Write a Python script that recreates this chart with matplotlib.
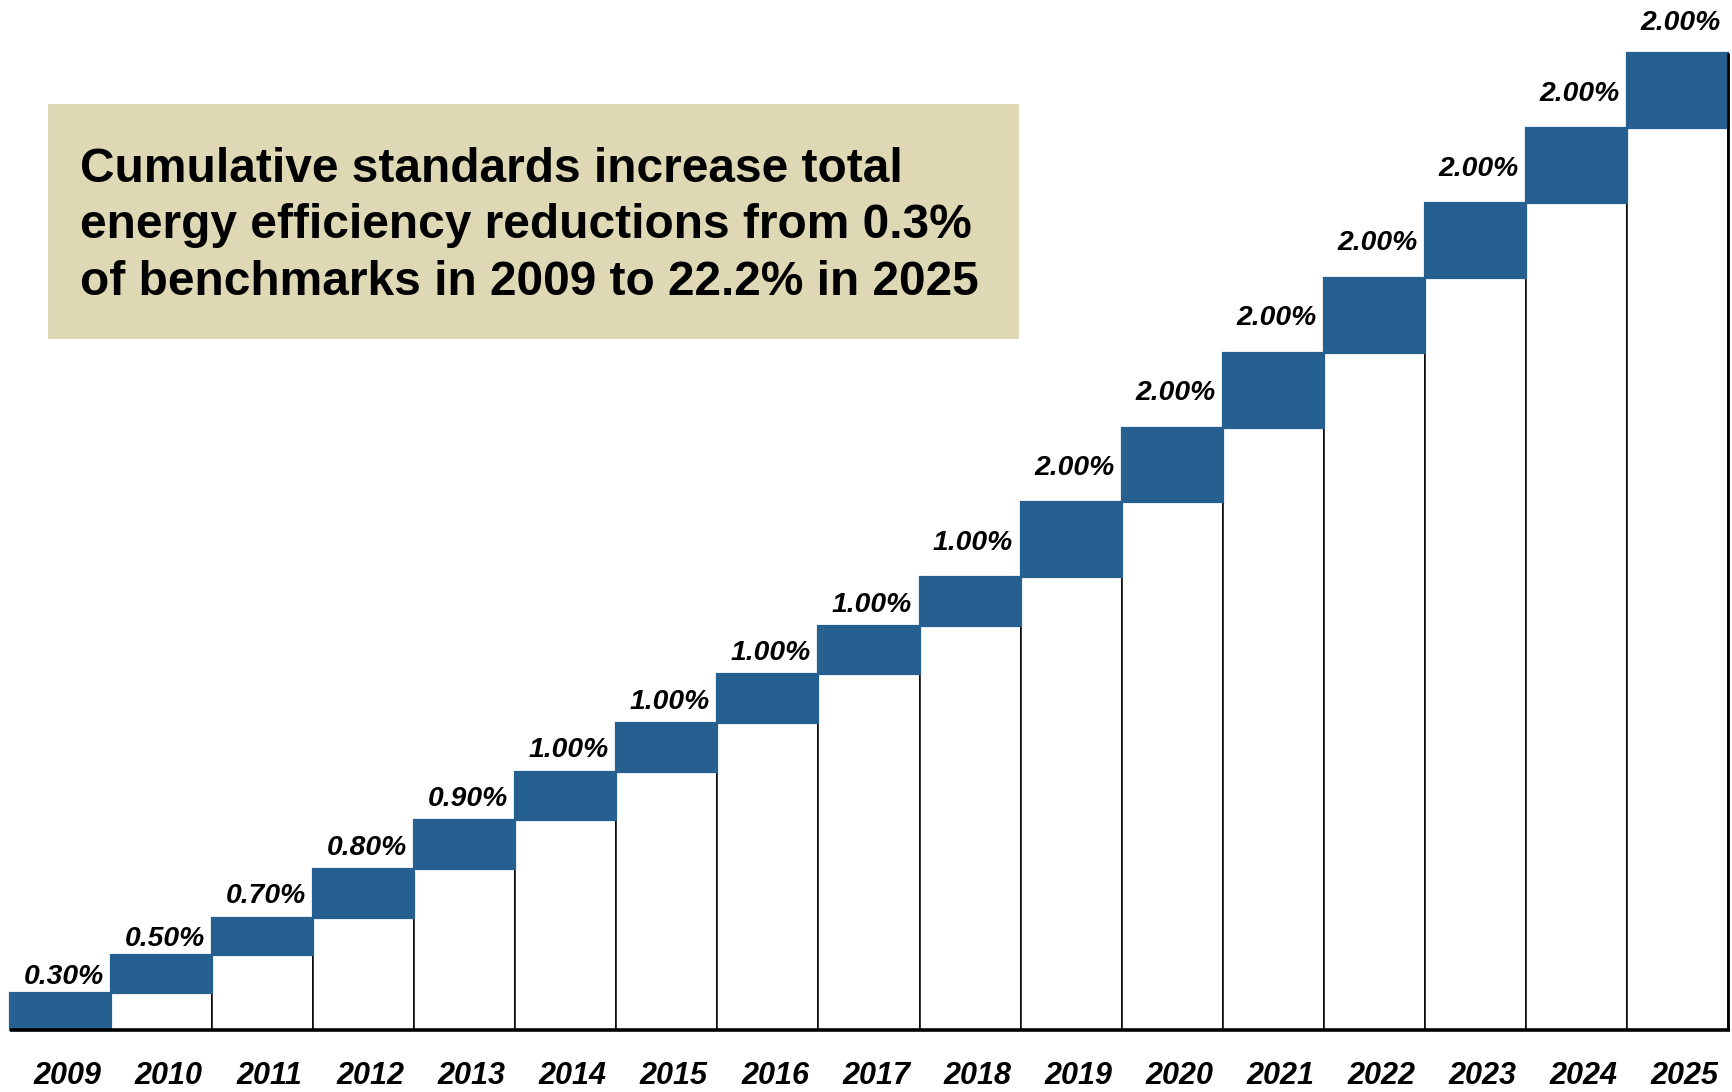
import matplotlib
matplotlib.use("Agg")
import matplotlib.pyplot as plt
from matplotlib.patches import Rectangle
import numpy as np

# ---- data ----
years = ["2009", "2010", "2011", "2012", "2013", "2014", "2015", "2016", "2017",
         "2018", "2019", "2020", "2021", "2022", "2023", "2024", "2025"]
step_labels = ["0.30%", "0.50%", "0.70%", "0.80%", "0.90%", "1.00%", "1.00%", "1.00%",
               "1.00%", "1.00%", "2.00%", "2.00%", "2.00%", "2.00%", "2.00%", "2.00%", "2.00%"]
# drawn height of each step block (relative units)
step_heights = [1.0, 1.0, 1.0, 1.3, 1.3, 1.3, 1.3, 1.3, 1.3, 1.3,
                2.0, 2.0, 2.0, 2.0, 2.0, 2.0, 2.0]
title_lines = ["Cumulative standards increase total",
               "energy efficiency reductions from 0.3%",
               "of benchmarks in 2009 to 22.2% in 2025"]

BLUE = "#266091"
TAN = "#DED9B4"
W, H = 1732, 1092

plt.rcParams['font.family'] = ['Liberation Sans', 'DejaVu Sans']

fig = plt.figure(figsize=(W / 100, H / 100), dpi=100)
ax = fig.add_axes([0, 0, 1, 1])

n = len(years)
x = np.arange(n)
heights = np.array(step_heights)
bases = np.concatenate([[0], np.cumsum(heights)[:-1]])
tops = bases + heights

# pixel mapping
px_per_x = (1728 - 10) / n
px_per_y = (1030 - 53.3) / tops[-1]
x_left = -0.5 - 10 / px_per_x
x_right = x_left + W / px_per_x
y_bottom = -(H - 1030) / px_per_y
y_top = y_bottom + H / px_per_y
ax.set_xlim(x_left, x_right)
ax.set_ylim(y_bottom, y_top)
ax.axis('off')

# white supporting bars
ax.bar(x, bases, width=1.0, color='white', edgecolor='black', linewidth=1.1, zorder=2)
# blue step blocks
ax.bar(x, heights, bottom=bases, width=1.0, color=BLUE, edgecolor=BLUE,
       linewidth=1.6, zorder=3)

# baseline and right edge
ax.hlines(0, -0.5, n - 0.5 + 2 / px_per_x, color='black', linewidth=2.6, zorder=5)
ax.vlines(n - 0.5, 0, tops[-1], color='black', linewidth=2.0, zorder=5)

# value labels, centred at the level of the following block
for i in range(n):
    if i < n - 1:
        yc = tops[i] + heights[i + 1] / 2
    else:
        yc = tops[i] + 0.89 * heights[i] / 2
    ax.text(x[i] + 0.03, yc - 10 / px_per_y, step_labels[i], ha='center', va='baseline',
            fontsize=20.3, fontweight='bold', fontstyle='italic', color='black', zorder=6)

# year labels
for i in range(n):
    ax.text(x[i] + 0.07, -(1084 - 1030) / px_per_y, years[i], ha='center', va='baseline',
            fontsize=22, fontweight='bold', fontstyle='italic', color='black')

# annotation box
fig.add_artist(Rectangle((48 / W, 1 - 339 / H), (1019 - 48) / W, (339 - 104) / H,
                         transform=fig.transFigure, facecolor=TAN, edgecolor='none', zorder=1))
baselines = [181.5, 238.5, 295.5]
for line, b in zip(title_lines, baselines):
    fig.text(79.5 / W, 1 - b / H, line, ha='left', va='baseline', fontsize=34.5,
             fontweight='bold', color='black', zorder=2)

fig.savefig("out.png", dpi=100)
